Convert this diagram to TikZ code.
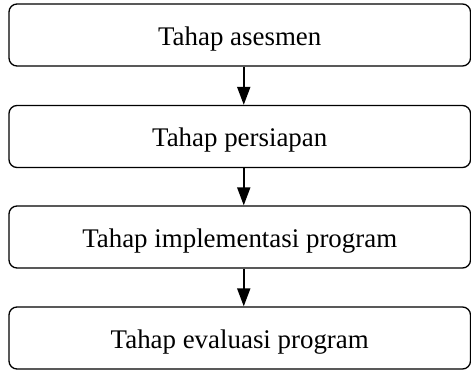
\documentclass[tikz,border=0pt]{standalone}
\usepackage{fontspec}
\setmainfont{Liberation Serif}
\usetikzlibrary{arrows.meta}
\begin{document}
\begin{tikzpicture}[x=1pt,y=1pt,
  stage/.style={draw, line width=1.3pt, rounded corners=8pt, minimum width=461.5pt, minimum height=62pt, inner sep=0pt, text depth=0pt, font=\fontsize{26.9}{31}\selectfont},
  conn/.style={line width=1.9pt, -{Triangle[length=18pt,width=13pt]}}]
\useasboundingbox (0,0) rectangle (471,370);
\node[stage] (a) at (239.75,335) {\raisebox{-1.5pt}{Tahap asesmen}};
\node[stage] (b) at (239.75,233.5) {\raisebox{-1.5pt}{Tahap persiapan}};
\node[stage] (c) at (239.75,133) {\raisebox{-1.5pt}{Tahap implementasi program}};
\node[stage] (d) at (239.75,32) {\raisebox{-1.5pt}{Tahap evaluasi program}};
\draw[conn] ([xshift=4pt]a.south) -- ([xshift=4pt]b.north);
\draw[conn] ([xshift=4pt]b.south) -- ([xshift=4pt]c.north);
\draw[conn] ([xshift=4pt]c.south) -- ([xshift=4pt]d.north);
\end{tikzpicture}
\end{document}
